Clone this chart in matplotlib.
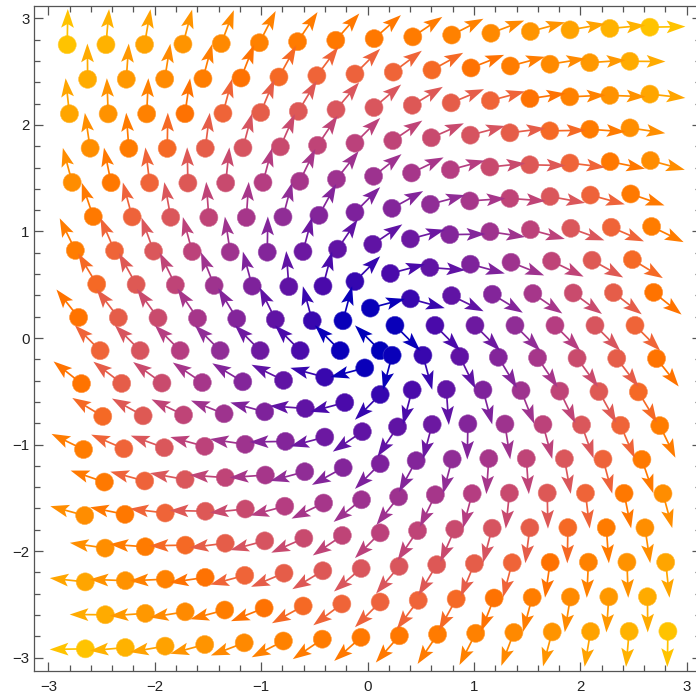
import numpy as np
import matplotlib.pyplot as plt
from matplotlib.colors import LinearSegmentedColormap

# hexagonal sample grid: even rows use full_row_x, odd rows use offset_row_x
full_row_x = [-2.82, -2.444, -2.068, -1.692, -1.316, -0.94, -0.564, -0.188,
              0.188, 0.564, 0.94, 1.316, 1.692, 2.068, 2.444, 2.82]
offset_row_x = [-2.632, -2.256, -1.88, -1.504, -1.128, -0.752, -0.376, 0.0,
                0.376, 0.752, 1.128, 1.504, 1.88, 2.256, 2.632]
row_y = [2.92, 2.596, 2.271, 1.947, 1.622, 1.298, 0.973, 0.649, 0.324, 0.0,
         -0.324, -0.649, -0.973, -1.298, -1.622, -1.947, -2.271, -2.596, -2.92]

# colour stops (fraction of max speed, rgb)
stop_pos = [0.0, 0.1, 0.185, 0.28, 0.37, 0.46, 0.555, 0.65, 0.70, 0.84, 1.0]
stop_rgb = [(0, 0, 185), (10, 0, 185), (75, 10, 170), (110, 25, 160),
            (145, 45, 150), (180, 60, 130), (215, 85, 95), (240, 100, 55),
            (255, 115, 0), (255, 150, 0), (255, 195, 0)]

ARROW_LEN = 0.335


def field(x, y):
    return x + y, y - x


px, py = [], []
for i, y in enumerate(row_y):
    xs = full_row_x if i % 2 == 0 else offset_row_x
    for x in xs:
        px.append(x)
        py.append(y)
px = np.array(px)
py = np.array(py)

u, v = field(px, py)
speed = np.hypot(u, v)
# the origin has no direction; draw it pointing up-left
zero = speed == 0
u = np.where(zero, -1.0, u)
v = np.where(zero, 1.0, v)
norm = np.hypot(u, v)
du, dv = u / norm, v / norm

cmap = LinearSegmentedColormap.from_list(
    "speed", list(zip(stop_pos, [tuple(c / 255 for c in rgb) for rgb in stop_rgb])))
colors = cmap(speed / speed.max())
edge = colors.copy()
edge[:, :3] = colors[:, :3] * 0.75 + 0.25

fig = plt.figure(figsize=(6.96, 7.0), dpi=100)
ax = fig.add_axes([0.0493, 0.0419, 0.9576, 0.95])

tail_x = px - du * ARROW_LEN / 2
tail_y = py - dv * ARROW_LEN / 2
ax.scatter(tail_x, tail_y, s=170, c=colors, edgecolors=edge, linewidths=0.4,
           zorder=2)
ax.quiver(px, py, du * ARROW_LEN, dv * ARROW_LEN, color=colors, pivot="middle",
          angles="xy", scale_units="xy", scale=1, units="xy", width=0.016,
          headwidth=7.5, headlength=11, headaxislength=9, zorder=3)

ax.set_xlim(-3.132, 3.132)
ax.set_ylim(-3.122, 3.119)
ax.set_xticks(range(-3, 4))
ax.set_yticks(range(-3, 4))
ax.set_xticks(np.arange(-3, 3.01, 0.2), minor=True)
ax.set_yticks(np.arange(-3, 3.01, 0.2), minor=True)
ax.tick_params(which="both", direction="in", top=True, right=True,
               color="#555555", width=0.9, labelsize=10.8, labelcolor="#222222")
ax.tick_params(which="major", length=6.5)
ax.tick_params(which="minor", length=4)
ax.tick_params(axis="x", pad=7)
ax.tick_params(axis="y", pad=3.5)
for lbl in ax.get_xticklabels() + ax.get_yticklabels():
    lbl.set_family("Liberation Sans")
for s in ax.spines.values():
    s.set_color("#555555")
    s.set_linewidth(0.9)

fig.savefig("out.png", dpi=100)
